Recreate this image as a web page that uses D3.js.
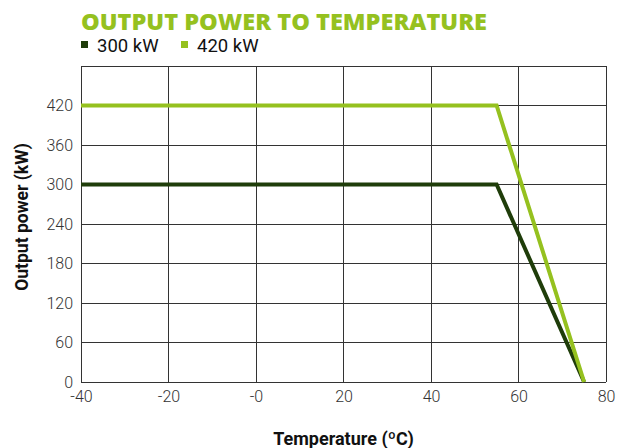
<!DOCTYPE html>
<html><head><meta charset="utf-8">
<script src="https://cdn.jsdelivr.net/npm/d3@7/dist/d3.min.js"></script>
<style>body{margin:0;background:#fff}svg{display:block}</style>
</head><body>
<script>
const seriesNames = ["300 kW", "420 kW"];
const seriesColors = ["#1f3d0a", "#95c11f"];
const temps = [-40, 55, 75];
const power300 = [300, 300, 0];
const power420 = [420, 420, 0];
const xTicks = [-40, -20, 0, 20, 40, 60, 80];
const xTickLabels = ["-40", "-20", "-0", "20", "40", "60", "80"];
const yTicks = [0, 60, 120, 180, 240, 300, 360, 420];

const W = 628, H = 448;
const m = {left: 81, right: 22, top: 66, bottom: 66};
const svg = d3.select("body").append("svg").attr("width", W).attr("height", H);
const x = d3.scaleLinear().domain([-40, 80]).range([m.left, W - m.right]);
const y = d3.scaleLinear().domain([0, 480]).range([H - m.bottom, m.top]);

// grid
const g = svg.append("g").attr("shape-rendering", "crispEdges");
g.selectAll(".vg").data(xTicks).join("line")
  .attr("x1", d => x(d)).attr("x2", d => x(d)).attr("y1", y(0)).attr("y2", y(480))
  .attr("stroke", "#333").attr("stroke-width", 1);
g.selectAll(".hg").data(yTicks.concat([480])).join("line")
  .attr("x1", x(-40)).attr("x2", x(80)).attr("y1", d => y(d)).attr("y2", d => y(d))
  .attr("stroke", "#333").attr("stroke-width", 1);

// axes labels
const xAxis = d3.axisBottom(x).tickValues(xTicks).tickSize(0).tickPadding(9)
  .tickFormat((d, i) => xTickLabels[i]);
const xa = svg.append("g").attr("transform", `translate(0,${y(0)})`).call(xAxis);
xa.select(".domain").remove();
xa.selectAll("text").attr("font-family", "Roboto").attr("font-weight", 300)
  .attr("font-size", 16).attr("fill", "#333");

const yAxis = d3.axisLeft(y).tickValues(yTicks).tickSize(0).tickPadding(8);
const ya = svg.append("g").attr("transform", `translate(${x(-40)},0)`).call(yAxis);
ya.select(".domain").remove();
ya.selectAll("text").attr("font-family", "Roboto").attr("font-weight", 300)
  .attr("font-size", 16).attr("fill", "#333");

// lines
const line = d3.line().x(d => x(d[0])).y(d => y(d[1]));
[power300, power420].forEach((vals, i) => {
  svg.append("path").datum(temps.map((t, j) => [t, vals[j]]))
    .attr("d", line).attr("fill", "none")
    .attr("stroke", seriesColors[i]).attr("stroke-width", 4);
});

// title
svg.append("text").attr("x", 81).attr("y", 30)
  .attr("font-family", "'Open Sans'").attr("font-weight", 800).attr("font-size", 22)
  .attr("fill", "#95c11f").attr("textLength", 406).attr("lengthAdjust", "spacingAndGlyphs")
  .text("OUTPUT POWER TO TEMPERATURE");

// legend
const legX = [81, 181];
seriesNames.forEach((n, i) => {
  svg.append("rect").attr("x", legX[i]).attr("y", 41).attr("width", 7).attr("height", 7)
    .attr("fill", seriesColors[i]);
  svg.append("text").attr("x", legX[i] + 16).attr("y", 52)
    .attr("font-family", "Roboto").attr("font-weight", 400).attr("font-size", 18.5)
    .attr("fill", "#111").text(n);
});

// axis titles
svg.append("text").attr("x", (x(-40) + x(80)) / 2).attr("y", 445).attr("text-anchor", "middle")
  .attr("font-family", "Roboto").attr("font-weight", 700).attr("font-size", 18)
  .attr("fill", "#111").text("Temperature (ºC)");
svg.append("text").attr("transform", `translate(28,217) rotate(-90)`)
  .attr("text-anchor", "middle")
  .attr("font-family", "Roboto").attr("font-weight", 700).attr("font-size", 17.5)
  .attr("fill", "#111").text("Output power (kW)");
</script>
</body></html>
